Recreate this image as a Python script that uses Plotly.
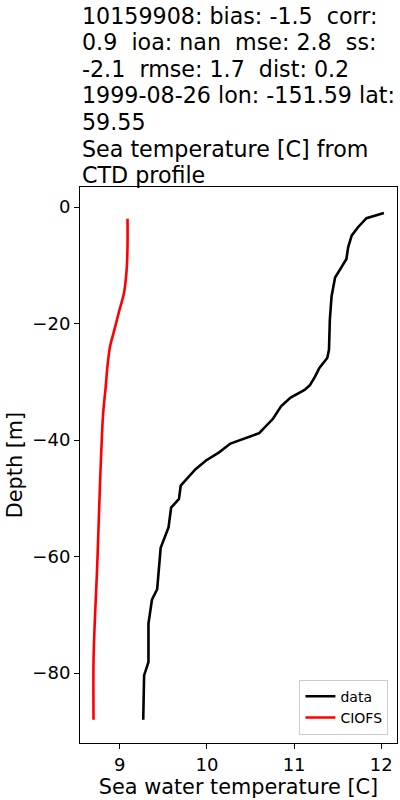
import plotly.graph_objects as go

# observed CTD profile
data_depth = [-1, -1.9, -3.5, -4.9, -6.9, -8.9, -10.4, -12.1, -15.3, -19.3, -24.5, -25.9,
              -27.6, -29.1, -30.6, -31.4, -32.7, -34.2, -36.3, -38.8, -40.6, -42.1, -43.5,
              -45.0, -47.8, -50.1, -51.6, -55.0, -58.5, -61.5, -64.0, -65.6, -67.4, -71.5,
              -78.1, -80.4, -88]
data_temp = [12.03, 11.83, 11.73, 11.66, 11.62, 11.60, 11.54, 11.47, 11.43, 11.41, 11.40, 11.38,
             11.29, 11.24, 11.18, 11.12, 10.96, 10.85, 10.76, 10.60, 10.27, 10.14, 9.99,
             9.87, 9.70, 9.68, 9.59, 9.56, 9.47, 9.45, 9.44, 9.43, 9.37, 9.33,
             9.33, 9.28, 9.27]

# CIOFS model profile
model_depth = [-2, -6.6, -10.7, -14.7, -18.1, -21.6, -23.9, -27.3, -30.8, -35.5, -45.3,
               -53.9, -62.5, -69.2, -77.8, -88]
model_temp = [9.09, 9.09, 9.08, 9.05, 8.99, 8.93, 8.89, 8.86, 8.84, 8.81, 8.78,
              8.76, 8.74, 8.72, 8.70, 8.70]

title_lines = [
    "10159908: bias: -1.5\u00a0 corr:",
    "0.9\u00a0 ioa: nan\u00a0 mse: 2.8\u00a0 ss:",
    "-2.1\u00a0 rmse: 1.7\u00a0 dist: 0.2",
    "1999-08-26 lon: -151.59 lat:",
    "59.55",
    "Sea temperature [C] from",
    "CTD profile",
]

fig = go.Figure()
fig.add_trace(go.Scatter(x=data_temp, y=data_depth, mode="lines", name="data",
                         line=dict(color="black", width=2.6)))
fig.add_trace(go.Scatter(x=model_temp, y=model_depth, mode="lines", name="CIOFS",
                         line=dict(color="#ff0000", width=2.6, shape="spline", smoothing=0.8)))

# title written line by line (matplotlib style 1.2 line spacing)
plot_top, plot_bottom = 186.5, 743.3
for i, line in enumerate(title_lines):
    py = 15 + 26.6 * i
    fig.add_annotation(text=line, xref="paper", x=0, xanchor="left",
                       yref="paper", y=(plot_bottom - py) / (plot_bottom - plot_top),
                       yanchor="middle", showarrow=False, align="left",
                       font=dict(size=22.2, color="black"))

axis_style = dict(showline=True, mirror=True, linecolor="black", linewidth=1.1,
                  ticks="outside", ticklen=5, tickwidth=1.1, tickcolor="black",
                  showgrid=False, zeroline=False,
                  tickfont=dict(size=18, color="black"))

fig.update_layout(
    width=400, height=800,
    margin=dict(l=80, r=3, t=187, b=57),
    paper_bgcolor="white", plot_bgcolor="white",
    font=dict(family="DejaVu Sans", color="black"),
    xaxis=dict(range=[8.545, 12.18], tickvals=[9, 10, 11, 12],
               title=dict(text="Sea water temperature [C]", font=dict(size=20.8), standoff=4),
               **axis_style),
    yaxis=dict(range=[-92.0, 3.45], tickvals=[0, -20, -40, -60, -80],
               title=dict(text="Depth [m]", font=dict(size=20.8), standoff=4),
               **axis_style),
    legend=dict(x=0.973, xanchor="right", y=0.015, yanchor="bottom",
                bgcolor="rgba(255,255,255,0.8)", bordercolor="#cccccc", borderwidth=1,
                font=dict(size=14)),
    showlegend=True,
)

fig.write_html("out.html", config={"displayModeBar": False},
               post_script="document.body.style.margin='0';")
